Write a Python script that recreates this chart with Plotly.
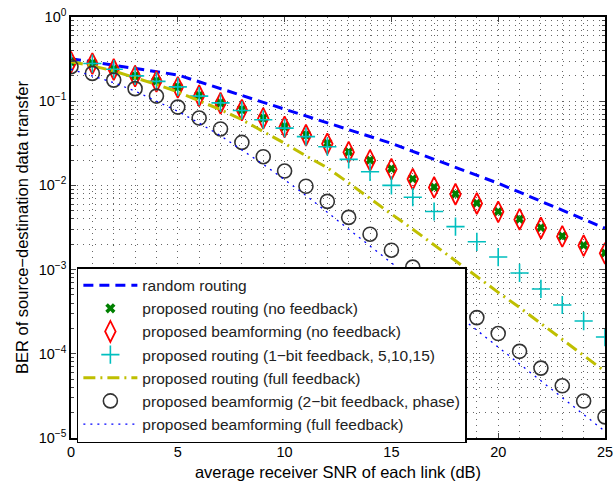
import plotly.graph_objects as go

snr = list(range(26))

random_routing = [0.320, 0.292, 0.267, 0.245, 0.224, 0.205, 0.170, 0.141, 0.116, 0.0955,
                  0.0794, 0.0661, 0.0550, 0.0457, 0.0380, 0.0316, 0.0254, 0.0204, 0.0164, 0.0132,
                  0.0106, 0.0083, 0.0065, 0.0050, 0.0040, 0.0031]
routing_nofb = [0.295, 0.282, 0.240, 0.200, 0.174, 0.148, 0.117, 0.0955, 0.0794, 0.0631,
                0.0501, 0.0398, 0.0316, 0.0251, 0.0200, 0.0158, 0.0120, 0.00955, 0.00794, 0.00617,
                0.00490, 0.00398, 0.00316, 0.00251, 0.00195, 0.00158]
beam_nofb = [0.290, 0.280, 0.238, 0.198, 0.172, 0.146, 0.116, 0.0945, 0.0785, 0.0625,
             0.0495, 0.0394, 0.0312, 0.0248, 0.0198, 0.0156, 0.0119, 0.00945, 0.00785, 0.00610,
             0.00485, 0.00394, 0.00312, 0.00248, 0.00193, 0.00156]
routing_1bit = [0.290, 0.280, 0.240, 0.200, 0.172, 0.148, 0.115, 0.0955, 0.0776, 0.0603,
                0.0479, 0.0380, 0.0288, 0.0204, 0.0145, 0.0100, 0.00724, 0.00490, 0.00324, 0.00214,
                0.00141, 0.000912, 0.000589, 0.000380, 0.000245, 0.000158]
routing_fullfb = [0.295, 0.263, 0.229, 0.191, 0.158, 0.129, 0.102, 0.0794, 0.0603, 0.0437,
                  0.0316, 0.0224, 0.0162, 0.0107, 0.00708, 0.00457, 0.00302, 0.00195, 0.00126, 0.000832,
                  0.000537, 0.000355, 0.000229, 0.000148, 0.0000955, 0.0000617]
beam_2bit = [0.257, 0.214, 0.178, 0.141, 0.115, 0.0851, 0.0631, 0.0468, 0.0324, 0.0219,
             0.0148, 0.00977, 0.00646, 0.00417, 0.00263, 0.00170, 0.00107, 0.000676, 0.000427, 0.000269,
             0.000174, 0.000107, 0.0000676, 0.0000417, 0.0000275, 0.0000178]
beam_fullfb = [0.240, 0.200, 0.166, 0.132, 0.100, 0.0759, 0.0550, 0.0389, 0.0263, 0.0178,
               0.0117, 0.00759, 0.00479, 0.00302, 0.00191, 0.00120, 0.000759, 0.000479, 0.000302, 0.000191,
               0.000120, 0.0000759, 0.0000479, 0.0000302, 0.0000191, 0.0000120]

y_tickvals = [1, 0.1, 0.01, 0.001, 0.0001, 0.00001]
y_ticktext = ["10<sup>0</sup>", "10<sup>−1</sup>", "10<sup>−2</sup>", "10<sup>−3</sup>",
              "10<sup>−4</sup>", "10<sup>−5</sup>"]
x_tickvals = [0, 5, 10, 15, 20, 25]

FONT = "Liberation Sans, Arial, Helvetica, sans-serif"

fig = go.Figure()
fig.add_trace(go.Scatter(x=snr, y=random_routing, mode="lines", name="random routing",
                         line=dict(color="#0000ff", width=3, dash="10px,6px")))
fig.add_trace(go.Scatter(x=snr, y=routing_nofb, mode="markers", name="proposed routing (no feedback)",
                         marker=dict(symbol="x", size=9, color="#008000", line=dict(width=0))))
fig.add_trace(go.Scatter(x=snr, y=beam_nofb, mode="markers", name="proposed beamforming (no feedback)",
                         marker=dict(symbol="diamond-tall-open", size=15, color="#ff0000",
                                     line=dict(width=1.8, color="#ff0000"))))
fig.add_trace(go.Scatter(x=snr, y=routing_1bit, mode="markers",
                         name="proposed routing (1−bit feedback, 5,10,15)",
                         marker=dict(symbol="cross-thin-open", size=13, color="#00bfbf",
                                     line=dict(width=1.6, color="#00bfbf"))))
fig.add_trace(go.Scatter(x=snr, y=routing_fullfb, mode="lines", name="proposed routing (full feedback)",
                         line=dict(color="#bfbf00", width=3, dash="12px,5px,2px,5px")))
fig.add_trace(go.Scatter(x=snr, y=beam_2bit, mode="markers",
                         name="proposed beamformig (2−bit feedback, phase)",
                         marker=dict(symbol="circle-open", size=14, color="#333333",
                                     line=dict(width=1.6, color="#333333"))))
fig.add_trace(go.Scatter(x=snr, y=beam_fullfb, mode="lines", name="proposed beamforming (full feedback)",
                         line=dict(color="#0000ff", width=1.3, dash="2px,5px")))

GRID = dict(gridcolor="#666666", gridwidth=1, griddash="1px,5px")

fig.update_xaxes(range=[0, 25], tickvals=x_tickvals, ticks="inside", ticklen=5,
                 showline=True, linecolor="black", linewidth=1.5, mirror="allticks",
                 zeroline=False, automargin=False, showgrid=True, ticklabeloverflow="allow",
                 minor=dict(dtick=1, ticks="", showgrid=True, **GRID),
                 title=dict(text="average receiver SNR of each link (dB)", standoff=8,
                            font=dict(size=16.5, family=FONT, color="black")),
                 tickfont=dict(size=14.5, family=FONT, color="black"),
                 **GRID)
fig.update_yaxes(type="log", range=[-5, 0], tickvals=y_tickvals, ticktext=y_ticktext,
                 ticks="inside", ticklen=5,
                 showline=True, linecolor="black", linewidth=1.5, mirror="allticks",
                 zeroline=False, automargin=False, showgrid=True, ticklabeloverflow="allow",
                 minor=dict(dtick="D1", ticks="inside", ticklen=3, showgrid=True, **GRID),
                 title=dict(text="BER of source−destination data transfer", standoff=6,
                            font=dict(size=16.5, family=FONT, color="black")),
                 tickfont=dict(size=14.5, family=FONT, color="black"),
                 **GRID)

fig.update_layout(
    width=616, height=481,
    margin=dict(l=71, r=11, t=17, b=43),
    paper_bgcolor="white", plot_bgcolor="white",
    font=dict(family=FONT, size=16, color="black"),
    legend=dict(x=0.011, y=0.406, xanchor="left", yanchor="top",
                bgcolor="white", bordercolor="black", borderwidth=1.5,
                font=dict(size=15.5, family=FONT, color="#222222"),
                itemwidth=54),
    showlegend=True,
)

# remove the default 8px page margin so the 616x481 figure fills the window exactly
fig.write_html("out.html",
               config={"displayModeBar": False},
               post_script="document.body.style.margin='0';document.body.style.overflow='hidden';")
